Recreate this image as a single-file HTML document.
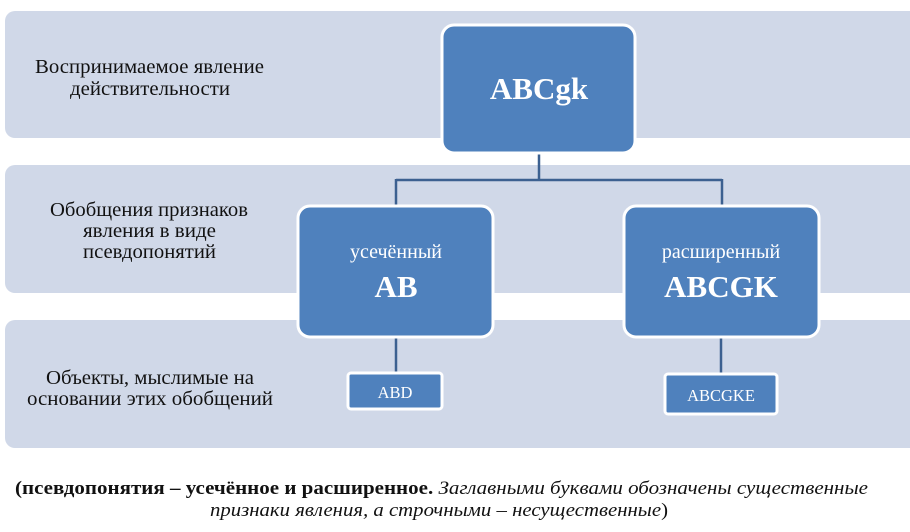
<!DOCTYPE html>
<html><head><meta charset="utf-8"><style>html,body{margin:0;padding:0;background:#fff}svg{display:block}</style></head>
<body>
<svg width="910" height="532" viewBox="0 0 910 532" xmlns="http://www.w3.org/2000/svg" font-family="'Liberation Serif', serif">
<rect x="5" y="11" width="925" height="127" rx="10" fill="#d0d8e8"/>
<rect x="5" y="165" width="925" height="128" rx="10" fill="#d0d8e8"/>
<rect x="5" y="320" width="925" height="128" rx="10" fill="#d0d8e8"/>
<g font-size="19.5" fill="#111">
<text x="35" y="73" textLength="229" lengthAdjust="spacingAndGlyphs">Воспринимаемое явление</text>
<text x="70" y="95" textLength="160" lengthAdjust="spacingAndGlyphs">действительности</text>
<text x="50" y="216" textLength="198" lengthAdjust="spacingAndGlyphs">Обобщения признаков</text>
<text x="83" y="237" textLength="133" lengthAdjust="spacingAndGlyphs">явления в виде</text>
<text x="83" y="258" textLength="133" lengthAdjust="spacingAndGlyphs">псевдопонятий</text>
<text x="46" y="384" textLength="208" lengthAdjust="spacingAndGlyphs">Объекты, мыслимые на</text>
<text x="27" y="405" textLength="246" lengthAdjust="spacingAndGlyphs">основании этих обобщений</text>
</g>
<g stroke="#3c6090" stroke-width="2.5" fill="none">
<path d="M539 153 V180 M396 180 H722 M396 179 V206 M722 179 V206 M396 337 V373 M721 337 V373"/>
</g>
<g fill="#4f81bd" stroke="#fff" stroke-width="3">
<rect x="442" y="25" width="193" height="128" rx="12"/>
<rect x="298" y="206" width="195" height="131" rx="12"/>
<rect x="624" y="206" width="195" height="131" rx="12"/>
<rect x="348" y="373" width="94" height="36" rx="3"/>
<rect x="665" y="374" width="112" height="40" rx="3"/>
</g>
<g fill="#fff" text-anchor="middle">
<text x="539" y="99" font-size="31" font-weight="bold">ABCgk</text>
<text x="396" y="258" font-size="20">усечённый</text>
<text x="396" y="297" font-size="31" font-weight="bold">AB</text>
<text x="721" y="258" font-size="20">расширенный</text>
<text x="721" y="297" font-size="31" font-weight="bold">ABCGK</text>
<text x="395" y="398" font-size="16.5">ABD</text>
<text x="721" y="401" font-size="16.5">ABCGKE</text>
</g>
<g font-size="19" fill="#111">
<text x="15" y="494" textLength="853" lengthAdjust="spacingAndGlyphs"><tspan font-weight="bold">(псевдопонятия – усечённое и расширенное.</tspan> <tspan font-style="italic">Заглавными буквами обозначены существенные</tspan></text>
<text x="210" y="516" textLength="458" lengthAdjust="spacingAndGlyphs" font-style="italic">признаки явления, а строчными – несущественные<tspan font-style="normal">)</tspan></text>
</g>
</svg>
</body></html>
